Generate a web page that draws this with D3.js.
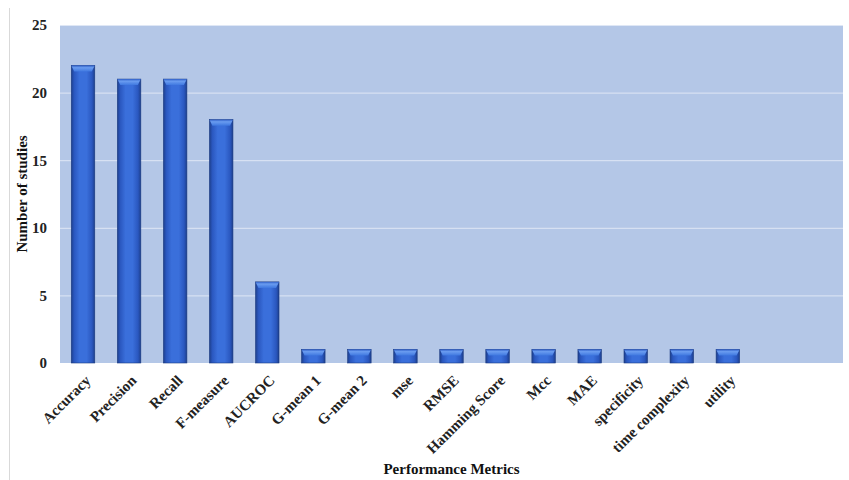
<!DOCTYPE html>
<html><head><meta charset="utf-8">
<script src="https://cdn.jsdelivr.net/npm/d3@7"></script>
<style>html,body{margin:0;padding:0;background:#fff;}</style>
</head><body>
<svg id="chart" width="849" height="480"></svg>
<script>
const categories = ["Accuracy","Precision","Recall","F-measure","AUCROC","G-mean 1","G-mean 2","mse","RMSE","Hamming Score","Mcc","MAE","specificity","time complexity","utility","",""];
const studies = [22,21,21,18,6,1,1,1,1,1,1,1,1,1,1,null,null];
const yTicks = [0,5,10,15,20,25];
const yTitle = "Number of studies";
const xTitle = "Performance Metrics";

const FONT = "'Liberation Serif','Times New Roman',serif";
const svg = d3.select("#chart");
const m = {left:60, right:6, top:25, bottom:117};
const W = 849, H = 480;
const x = d3.scaleBand().domain(d3.range(categories.length)).range([m.left, W - m.right]).paddingInner(0.49).paddingOuter(0.245);
const y = d3.scaleLinear().domain([0,25]).range([H - m.bottom, m.top]);

const defs = svg.append("defs");
const g1 = defs.append("linearGradient").attr("id","barGrad").attr("x1","0").attr("x2","1").attr("y1","0").attr("y2","0");
[["0%","#1d3f8c"],["12%","#2a57bf"],["35%","#3a6fdb"],["65%","#3a6fdb"],["88%","#2a57bf"],["100%","#1d3f8c"]].forEach(s=>g1.append("stop").attr("offset",s[0]).attr("stop-color",s[1]));
const g2 = defs.append("linearGradient").attr("id","capGrad").attr("x1","0").attr("x2","0").attr("y1","0").attr("y2","1");
[["0%","#2f5fc8"],["35%","#6a9cf0"],["100%","#3f78e0"]].forEach(s=>g2.append("stop").attr("offset",s[0]).attr("stop-color",s[1]));

svg.append("line").attr("x1",9.5).attr("x2",9.5).attr("y1",8).attr("y2",480).attr("stroke","#d9d9d9");

svg.append("rect").attr("x",m.left).attr("y",m.top).attr("width",W-m.right-m.left).attr("height",y(0)-m.top).attr("fill","#b4c7e7");

svg.append("g").selectAll("line").data(yTicks.filter(d=>d>0)).join("line")
  .attr("x1",m.left).attr("x2",W-m.right).attr("y1",d=>y(d)+0.5).attr("y2",d=>y(d)+0.5)
  .attr("stroke","#dfe7f5").attr("stroke-width",1);

const yAxis = svg.append("g").attr("transform",`translate(${m.left},0)`)
  .call(d3.axisLeft(y).tickValues(yTicks).tickSize(0).tickPadding(13));
yAxis.select(".domain").remove();
yAxis.selectAll("text").attr("font-family",FONT).attr("font-weight","bold").attr("font-size","15px").attr("fill","#222");

const bw = x.bandwidth();
const bars = svg.append("g").selectAll("g").data(studies.map((v,i)=>({v,i})).filter(d=>d.v!=null)).join("g");
bars.append("rect").attr("x",d=>x(d.i)).attr("y",d=>y(d.v)).attr("width",bw).attr("height",d=>y(0)-y(d.v))
  .attr("fill","url(#barGrad)").attr("stroke","#1a3a80").attr("stroke-width",0.6);
bars.append("path").attr("d",d=>{
  const x0=x(d.i), x1=x0+bw, t=y(d.v), c=6;
  return `M${x0},${t} L${x1},${t} L${x1-3},${t+c} L${x0+3},${t+c} Z`;
}).attr("fill","url(#capGrad)");

svg.append("g").selectAll("text").data(categories.map((c,i)=>({c,i})).filter(d=>d.c)).join("text")
  .attr("transform",d=>`translate(${x(d.i)+bw/2+6},${y(0)+16}) rotate(-45)`)
  .attr("text-anchor","end").attr("dominant-baseline","middle")
  .attr("font-family",FONT).attr("font-weight","bold").attr("font-size","15px").attr("fill","#222")
  .text(d=>d.c);

svg.append("text").attr("x",(m.left+W-m.right)/2).attr("y",474).attr("text-anchor","middle")
  .attr("font-family",FONT).attr("font-weight","bold").attr("font-size","15px").attr("fill","#111").text(xTitle);
svg.append("text").attr("transform",`translate(27,${194}) rotate(-90)`).attr("text-anchor","middle")
  .attr("font-family",FONT).attr("font-weight","bold").attr("font-size","15px").attr("fill","#111").text(yTitle);
</script>
</body></html>
